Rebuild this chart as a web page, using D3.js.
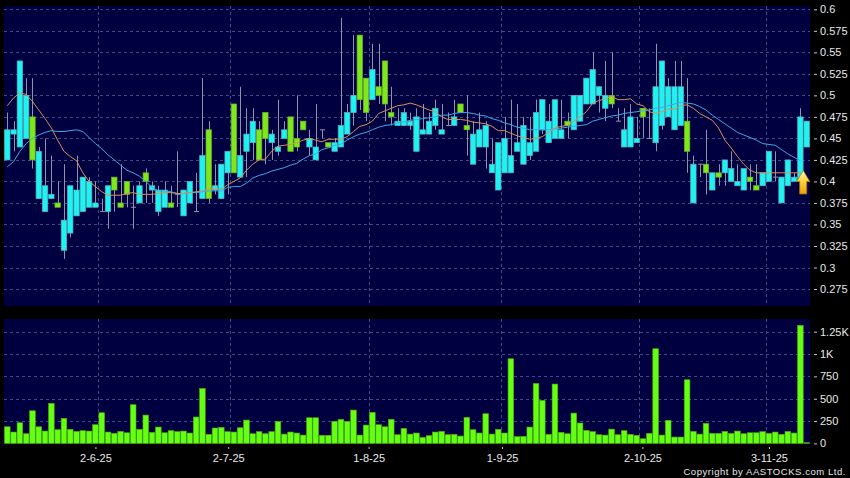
<!DOCTYPE html>
<html><head><meta charset="utf-8">
<style>html,body{margin:0;padding:0;background:#000;overflow:hidden}svg{display:block}text{font-family:"Liberation Sans",Arial,sans-serif}</style>
<script src="https://d3js.org/d3.v7.min.js"></script></head><body><svg id="c" width="850" height="478"></svg>
<script>
// direction: 1 = cyan body, 0 = green body
const highs=[.48,.47,.54,.52,.52,.44,.45,.43,.4,.42,.395,.43,.405,.405,.4,.38,.395,.405,.42,.4,.395,.4,.415,.4,.395,.4,.395,.435,.39,.4,.41,.52,.47,.42,.42,.435,.49,.51,.485,.485,.47,.48,.46,.495,.47,.475,.5,.47,.46,.49,.46,.445,.45,.59,.49,.57,.57,.52,.56,.56,.54,.51,.485,.485,.48,.485,.49,.48,.495,.49,.48,.495,.49,.5,.47,.48,.47,.45,.445,.475,.495,.49,.475,.475,.495,.495,.49,.495,.495,.48,.5,.5,.52,.55,.51,.54,.55,.485,.485,.49,.475,.485,.485,.56,.54,.52,.54,.54,.52,.43,.42,.46,.41,.42,.425,.435,.42,.415,.42,.42,.41,.435,.435,.405,.425,.41,.485,.47];
const tops=[.46,.46,.54,.5,.475,.435,.395,.385,.375,.355,.395,.39,.405,.4,.375,.365,.395,.405,.375,.4,.37,.395,.41,.395,.39,.39,.375,.385,.39,.4,.365,.43,.46,.395,.42,.435,.49,.43,.455,.47,.46,.48,.455,.44,.46,.475,.45,.47,.45,.44,.46,.445,.445,.465,.48,.5,.57,.52,.53,.51,.54,.48,.47,.48,.47,.475,.46,.47,.485,.46,.465,.475,.49,.465,.455,.46,.465,.42,.445,.45,.43,.445,.465,.445,.48,.495,.47,.495,.46,.47,.5,.5,.52,.53,.51,.5,.5,.47,.46,.475,.45,.485,.45,.51,.54,.51,.51,.51,.47,.42,.42,.42,.41,.41,.425,.415,.4,.415,.405,.395,.41,.435,.405,.405,.425,.405,.475,.47];
const bottoms=[.425,.455,.44,.45,.425,.38,.365,.38,.37,.32,.34,.36,.365,.37,.37,.365,.365,.39,.37,.385,.37,.375,.4,.39,.365,.37,.37,.385,.36,.375,.365,.38,.38,.39,.38,.41,.41,.405,.435,.445,.425,.45,.445,.435,.45,.435,.44,.46,.44,.425,.46,.44,.435,.44,.455,.48,.495,.48,.495,.5,.49,.475,.465,.465,.465,.435,.455,.455,.465,.455,.465,.465,.48,.46,.42,.44,.44,.41,.39,.41,.41,.435,.42,.43,.435,.46,.445,.45,.45,.465,.46,.47,.49,.49,.5,.485,.49,.47,.44,.44,.445,.475,.45,.445,.465,.475,.46,.465,.435,.375,.42,.41,.39,.405,.41,.4,.395,.39,.4,.39,.395,.4,.405,.375,.395,.4,.4,.44];
const lows=[.425,.435,.44,.45,.415,.38,.365,.38,.37,.31,.335,.36,.365,.37,.37,.365,.345,.365,.37,.37,.345,.375,.375,.375,.36,.37,.37,.37,.36,.375,.365,.38,.375,.385,.38,.385,.41,.405,.405,.425,.425,.42,.425,.43,.45,.435,.435,.46,.43,.425,.45,.44,.435,.44,.455,.465,.483,.47,.495,.49,.47,.465,.465,.465,.46,.435,.455,.455,.46,.455,.465,.465,.48,.43,.42,.44,.415,.41,.39,.41,.41,.435,.42,.425,.435,.455,.445,.45,.45,.45,.46,.47,.49,.49,.48,.47,.485,.47,.44,.44,.445,.45,.45,.435,.46,.475,.46,.465,.41,.375,.405,.385,.39,.395,.395,.4,.395,.39,.39,.39,.395,.4,.4,.375,.395,.4,.4,.44];
const upFlags=[1,1,1,1,0,1,1,1,0,1,1,1,1,1,1,1,1,0,0,0,1,1,0,1,1,1,0,1,1,1,1,1,0,1,1,1,0,1,1,1,0,0,1,1,1,0,0,0,1,1,1,0,1,1,1,1,0,0,1,0,0,0,1,1,1,1,1,1,1,1,1,1,0,0,1,1,1,1,1,1,1,1,1,1,1,1,1,1,1,0,1,1,1,1,1,1,0,1,1,1,1,0,1,1,1,1,1,1,0,1,1,0,1,0,1,1,1,1,0,0,1,1,1,1,1,1,1,1];
const volumes=[186,127,231,108,365,186,138,448,153,280,157,134,142,138,209,343,127,112,134,119,433,157,317,123,183,119,142,131,138,116,295,615,101,172,179,131,127,175,261,108,131,108,131,246,104,127,116,93,287,287,90,90,246,269,246,373,93,205,347,209,186,269,97,168,104,116,67,86,127,134,97,101,82,291,153,116,332,104,157,116,947,75,78,183,671,481,101,664,123,108,339,228,145,131,97,93,160,97,142,101,90,52,112,1059,93,257,71,71,712,134,104,224,112,112,134,112,138,108,119,119,131,112,127,101,134,116,1320,8];
const maShort=[.488,.497,.503,.501,.493,.483,.473,.462,.448,.435,.429,.424,.410,.400,.394,.388,.384,.384,.384,.386,.387,.385,.385,.385,.386,.387,.387,.386,.386,.387,.388,.389,.391,.391,.391,.396,.400,.404,.413,.420,.425,.426,.435,.441,.442,.443,.445,.448,.450,.448,.446,.449,.449,.449,.452,.458,.464,.466,.470,.479,.482,.485,.488,.489,.491,.489,.486,.483,.481,.475,.472,.472,.472,.471,.469,.468,.467,.464,.459,.459,.456,.453,.451,.449,.450,.452,.457,.462,.464,.465,.470,.475,.481,.491,.494,.496,.499,.495,.495,.496,.490,.488,.481,.479,.481,.484,.484,.488,.489,.485,.479,.475,.471,.462,.448,.439,.429,.420,.413,.410,.410,.410,.410,.410,.410,.410,.410];
const maLong=[.417,.423,.435,.444,.450,.454,.457,.459,.458,.458,.459,.460,.458,.451,.444,.438,.431,.425,.419,.413,.410,.406,.400,.393,.389,.389,.388,.386,.386,.387,.387,.388,.389,.389,.389,.393,.394,.394,.398,.404,.407,.409,.412,.414,.416,.419,.421,.426,.430,.432,.437,.439,.442,.443,.448,.452,.455,.457,.460,.463,.465,.466,.468,.469,.471,.472,.473,.474,.475,.477,.477,.479,.480,.480,.479,.477,.476,.473,.471,.468,.466,.463,.462,.460,.460,.460,.460,.461,.462,.463,.464,.465,.466,.470,.472,.474,.476,.477,.479,.480,.481,.482,.483,.485,.486,.488,.490,.492,.491,.490,.487,.483,.477,.472,.467,.462,.457,.454,.451,.448,.444,.443,.442,.437,.432,.428,.424];
const priceTicks=[.6,.575,.55,.525,.5,.475,.45,.425,.4,.375,.35,.325,.3,.275];
const priceLabels=["0.6","0.575","0.55","0.525","0.5","0.475","0.45","0.425","0.4","0.375","0.35","0.325","0.3","0.275"];
const volTicks=[0,250,500,750,1000,1250];
const volLabels=["0","250","500","750","1K","1.25K"];
const dateIdx=[14,35.1,57.4,78.6,100.9,121];
const dateLabels=["2-6-25","2-7-25","1-8-25","1-9-25","2-10-25","3-11-25"];
const gridIdx=[14.45,35.4,57.5,78.5,100.4,120.5];
const arrowValue=.4;

const svg=d3.select("#c");
const L=4,R=810,PT=6,PB=306,VT=319,VB=444;
const x=d3.scaleLinear().domain([0,127]).range([7.3,806.7]);
const yP=d3.scaleLinear().domain([.6,.3]).range([9.3,267.5]);
const yV=d3.scaleLinear().domain([0,1250]).range([443.4,331.7]);
svg.append("rect").attr("width",850).attr("height",478).attr("fill","#000");
[[PT,PB],[VT,VB]].forEach(([a,b])=>svg.append("rect").attr("x",L).attr("y",a).attr("width",R-L).attr("height",b-a).attr("fill","#000040"));
const gridC="#3d4d86";
const g=svg.append("g").attr("stroke",gridC).attr("stroke-dasharray","3,3").attr("stroke-width",1);
priceTicks.forEach(t=>g.append("line").attr("x1",L).attr("x2",R).attr("y1",Math.round(yP(t))+.5).attr("y2",Math.round(yP(t))+.5));
volTicks.slice(1).forEach(t=>g.append("line").attr("x1",L).attr("x2",R).attr("y1",Math.round(yV(t))+.5).attr("y2",Math.round(yV(t))+.5));
gridIdx.forEach(i=>{const px=Math.round(x(i))+.5;
  [[PT,PB],[VT,VB]].forEach(([a,b])=>g.append("line").attr("x1",px).attr("x2",px).attr("y1",a).attr("y2",b));});

const fmtP=d=>priceLabels[priceTicks.indexOf(d)], fmtV=d=>volLabels[volTicks.indexOf(d)];
const styleAxis=s=>{s.select(".domain").remove();s.selectAll("line").attr("stroke","#c8c8c8");s.selectAll("text").attr("fill","#e8e8e8").style("font-size","11px").style("font-family",'"Liberation Sans",Arial,sans-serif');};
svg.append("g").attr("transform",`translate(${R+4},0)`).call(d3.axisRight(yP).tickValues(priceTicks).tickFormat(fmtP).tickSize(3).tickPadding(3)).call(styleAxis);
svg.append("g").attr("transform",`translate(${R+4},0)`).call(d3.axisRight(yV).tickValues(volTicks).tickFormat(fmtV).tickSize(3).tickPadding(3)).call(styleAxis);
const xAxisScale=d3.scaleOrdinal().domain(dateIdx).range(dateIdx.map(i=>x(i)));
svg.append("g").attr("transform",`translate(0,${VB+3})`).call(d3.axisBottom(xAxisScale).tickValues(dateIdx).tickFormat((d,i)=>dateLabels[i]).tickSize(2).tickPadding(5)).call(styleAxis);

// wicks
svg.append("g").selectAll("line").data(highs).join("line")
 .attr("x1",(d,i)=>Math.round(x(i))+.5).attr("x2",(d,i)=>Math.round(x(i))+.5)
 .attr("y1",d=>yP(d)).attr("y2",(d,i)=>yP(lows[i])).attr("stroke","#8f94ab").attr("stroke-width",1);
// bodies
const bodyC=i=>upFlags[i]?"#1ff2f2":"#7ee81a", edgeC=i=>upFlags[i]?"#55b4be":"#6bb42e";
svg.append("g").selectAll("rect").data(tops).join("rect")
 .attr("x",(d,i)=>x(i)-2.7).attr("width",5.4)
 .attr("y",d=>yP(d)).attr("height",(d,i)=>Math.max(0,yP(bottoms[i])-yP(d)))
 .attr("fill",(d,i)=>tops[i]===bottoms[i]?"none":bodyC(i))
 .attr("stroke",(d,i)=>tops[i]===bottoms[i]?"none":edgeC(i)).attr("stroke-width",.7);
// doji ticks
svg.append("g").selectAll("line").data(d3.range(tops.length).filter(i=>tops[i]===bottoms[i])).join("line")
 .attr("x1",i=>Math.round(x(i))-2).attr("x2",i=>Math.round(x(i))+3).attr("y1",i=>yP(tops[i])).attr("y2",i=>yP(tops[i])).attr("stroke","#8f94ab");
// MAs
const ln=d3.line().x((d,i)=>x(i)).y(d=>yP(d));
svg.append("path").attr("d",ln(maLong)).attr("fill","none").attr("stroke","#3fa9e6").attr("stroke-width",1);
svg.append("path").attr("d",ln(maShort)).attr("fill","none").attr("stroke","#d9905a").attr("stroke-width",1);
// arrow
const defs=svg.append("defs");
const gr=defs.append("linearGradient").attr("id","ag").attr("x1",0).attr("x2",0).attr("y1",0).attr("y2",1);
gr.append("stop").attr("offset","0").attr("stop-color","#fff8c8");
gr.append("stop").attr("offset",".4").attr("stop-color","#ffd848");
gr.append("stop").attr("offset","1").attr("stop-color","#f0a000");
const ax=x(126)+2.8,ay=yP(arrowValue)-11;
svg.append("path").attr("transform",`translate(${ax},${ay})`)
 .attr("d",d3.line()([[0,0],[6.5,11],[3.5,11],[3.5,23.5],[-3.5,23.5],[-3.5,11],[-6.5,11]])+"Z").attr("fill","url(#ag)").attr("stroke","#a87a10").attr("stroke-width",.8);
// volumes
svg.append("g").selectAll("rect").data(volumes).join("rect")
 .attr("x",(d,i)=>x(i)-2.8).attr("width",5.6)
 .attr("y",d=>yV(d)).attr("height",d=>yV(0)-yV(d))
 .attr("fill","#66ff11").attr("stroke","#46b412").attr("stroke-width",.6);
svg.append("text").attr("x",846).attr("y",475).attr("text-anchor","end").attr("fill","#e8e8e8").style("font-size","9.5px").style("letter-spacing",".55px").text("Copyright by AASTOCKS.com Ltd.");
</script></body></html>
